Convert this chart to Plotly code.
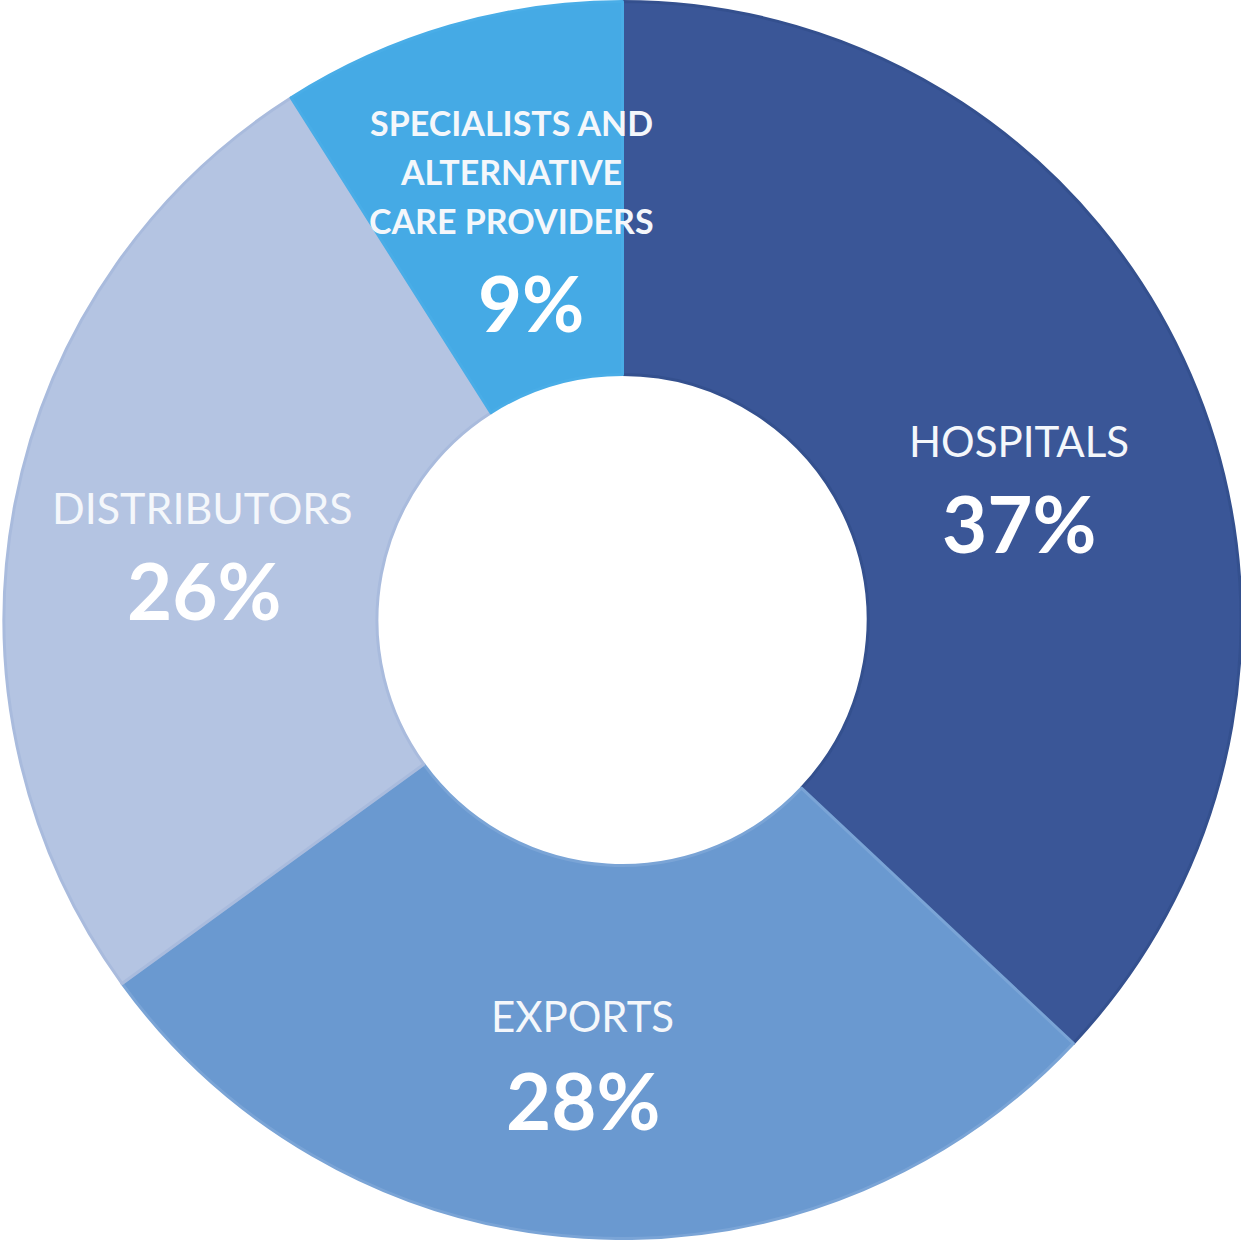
import plotly.graph_objects as go

# data
categories = ["HOSPITALS", "EXPORTS", "DISTRIBUTORS", "SPECIALISTS AND<br>ALTERNATIVE<br>CARE PROVIDERS"]
shares = [37, 28, 26, 9]

colors = ["#3A5697", "#6A99D0", "#B4C4E2", "#45AAE5"]
edge_colors = ["#34508E", "#7AA4D6", "#A9BBDD", "#49ADE7"]

W, H = 1241, 1240

# label placement (pixel centres of name and percent text in the picture)
label_pos = [
    {"name": (1019, 441), "pct": (1019, 523), "name_size": 42, "pct_size": 78, "name_bold": False},
    {"name": (582, 1016), "pct": (583, 1100), "name_size": 42, "pct_size": 78, "name_bold": False},
    {"name": (203, 507), "pct": (204, 590), "name_size": 43, "pct_size": 78, "name_bold": False},
    {"name": (511, 171), "pct": (531, 302), "name_size": 34, "pct_size": 76, "name_bold": True},
]

FONT = "Lato"

fig = go.Figure()
fig.add_trace(go.Pie(
    labels=categories,
    values=shares,
    hole=0.397,
    sort=False,
    direction="clockwise",
    rotation=0,
    domain=dict(x=[4 / W, 1], y=[0, 1]),
    marker=dict(colors=colors, line=dict(color=edge_colors, width=3)),
    textinfo="none",
    hoverinfo="label+percent",
    showlegend=False,
))


def px(x, y):
    return x / W, 1 - y / H


annotations = []
for cat, val, pos in zip(categories, shares, label_pos):
    lines = cat.split("<br>")
    step = 49
    cx, cy = pos["name"]
    y0 = cy - step * (len(lines) - 1) / 2
    for i, line in enumerate(lines):
        x, y = px(cx, y0 + i * step)
        txt = f"<b>{line}</b>" if pos["name_bold"] else line
        annotations.append(dict(
            x=x, y=y, xref="paper", yref="paper", text=txt, showarrow=False,
            xanchor="center", yanchor="middle",
            font=dict(family=FONT, size=pos["name_size"], color="#F4F7FB"),
        ))
    x, y = px(*pos["pct"])
    annotations.append(dict(
        x=x, y=y, xref="paper", yref="paper", text=f"<b>{val}%</b>", showarrow=False,
        xanchor="center", yanchor="middle",
        font=dict(family=FONT, size=pos["pct_size"], color="#FFFFFF"),
    ))

fig.update_layout(
    width=W,
    height=H,
    margin=dict(l=0, r=0, t=0, b=0),
    paper_bgcolor="white",
    plot_bgcolor="white",
    annotations=annotations,
)

# drop the default page margin so the figure sits at the window's corner
fig.write_html(
    "out.html",
    config={"displayModeBar": False},
    post_script="document.body.style.margin='0';",
)
